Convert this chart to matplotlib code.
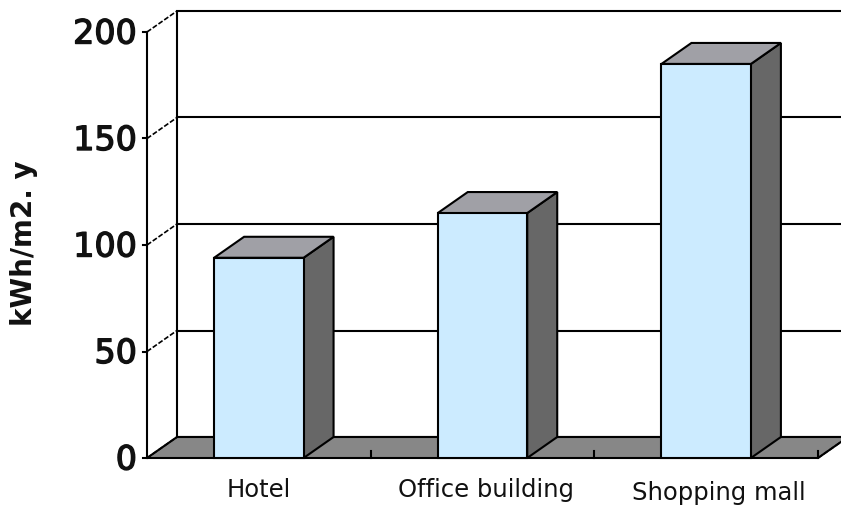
import numpy as np
import matplotlib
matplotlib.use("Agg")
import matplotlib.pyplot as plt
from matplotlib.patches import Polygon
from matplotlib.lines import Line2D
from matplotlib.transforms import IdentityTransform, offset_copy
import matplotlib.patheffects as pe

# --- data -------------------------------------------------------------
categories = ["Hotel", "Office building", "Shopping mall"]
values = [94, 115, 185]
y_ticks = [0, 50, 100, 150, 200]
y_label = "kWh/m2. y"

# --- styling ----------------------------------------------------------
FRONT_COLOR = "#CCEBFF"
SIDE_COLOR = "#676767"
TOP_COLOR = "#A0A0A6"
FLOOR_COLOR = "#878787"
EDGE = "black"
LW = 1.5
DEPTH = (30.0, 21.0)      # oblique depth offset in pixels
BAR_WIDTH = 0.40

W, H, DPI = 841, 511, 100
fig = plt.figure(figsize=(W / DPI, H / DPI), dpi=DPI)
fig.patch.set_facecolor("white")
ax = fig.add_axes([147 / W, (H - 458) / H, (818 - 147) / W, (458 - 32) / H])
ax.set_xlim(-0.5, len(categories) - 0.5)
ax.set_ylim(y_ticks[0], y_ticks[-1])
ax.axis("off")

x0, x1 = ax.get_xlim()
ymin, ymax = ax.get_ylim()


def proj(x, y, z):
    """Data point (x, y) pushed back by depth fraction z, in display pixels."""
    px, py = ax.transData.transform((x, y))
    return (px + z * DEPTH[0], py + z * DEPTH[1])


def face(pts, color, zorder, lw=LW):
    poly = Polygon([proj(*p) for p in pts], closed=True, facecolor=color,
                   edgecolor=EDGE, linewidth=lw, transform=IdentityTransform(),
                   zorder=zorder, clip_on=False, joinstyle="miter")
    fig.add_artist(poly)


def seg(p, q, zorder=3, lw=LW, ls="-"):
    a, b = proj(*p), proj(*q)
    fig.add_artist(Line2D([a[0], b[0]], [a[1], b[1]], color=EDGE, linewidth=lw,
                          linestyle=ls, transform=IdentityTransform(),
                          zorder=zorder, clip_on=False))


# back wall
face([(x0, ymin, 1), (x1, ymin, 1), (x1, ymax, 1), (x0, ymax, 1)], "white", 1)
for v in y_ticks[1:-1]:
    seg((x0, v, 1), (x1, v, 1), zorder=2)

# floor
face([(x0, ymin, 0), (x1, ymin, 0), (x1, ymin, 1), (x0, ymin, 1)], FLOOR_COLOR, 2)
seg((x1, ymin, 0), (x1, ymin, 1), zorder=3, lw=1.2, ls=(0, (3, 1.2)))
for k in range(1, len(categories) + 1):
    xb = x0 + k
    a = proj(xb, ymin, 0)
    fig.add_artist(Line2D([a[0], a[0]], [a[1], a[1] + 7], color=EDGE, linewidth=LW,
                          transform=IdentityTransform(), zorder=3, clip_on=False))

# left side: value axis with depth lines to the back wall
thick = [pe.withStroke(linewidth=1.0, foreground="#111111")]
seg((x0, ymin, 0), (x0, ymax, 0), zorder=3)
for v in y_ticks:
    seg((x0, v, 0), (x0, v, 1), zorder=3, lw=1.2, ls=(0, (3, 1.2)))
    a = proj(x0, v, 0)
    fig.add_artist(Line2D([a[0] - 4, a[0]], [a[1], a[1]], color=EDGE, linewidth=LW,
                          transform=IdentityTransform(), zorder=3, clip_on=False))
    ax.text(x0, v, str(v), transform=offset_copy(ax.transData, fig, x=-10, y=-2, units="dots"),
            ha="right", va="center", fontsize=24, fontfamily="DejaVu Sans",
            color="#111111", clip_on=False, path_effects=thick)

# bars
for i, v in enumerate(values):
    l, r = i - BAR_WIDTH / 2, i + BAR_WIDTH / 2
    face([(r, 0, 0), (r, 0, 1), (r, v, 1), (r, v, 0)], SIDE_COLOR, 5 + i)
    face([(l, v, 0), (r, v, 0), (r, v, 1), (l, v, 1)], TOP_COLOR, 5 + i)
    face([(l, 0, 0), (r, 0, 0), (r, v, 0), (l, v, 0)], FRONT_COLOR, 5 + i)

# category labels
label_shift = [0, 4, 13]
label_drop = [-39, -39, -42]
for i, (name, dx, dy) in enumerate(zip(categories, label_shift, label_drop)):
    ax.text(i, 0, name, transform=offset_copy(ax.transData, fig, x=dx, y=dy, units="dots"),
            ha="center", va="baseline", fontsize=17.5, fontfamily="DejaVu Sans",
            color="#111111", clip_on=False)

# value axis title
fig.text(24 / W, 1 - 243 / H, y_label, rotation=90, ha="center", va="center",
         fontsize=20, fontweight="bold", fontfamily="DejaVu Sans", color="#111111")

fig.savefig("out.png", dpi=DPI, facecolor="white")
